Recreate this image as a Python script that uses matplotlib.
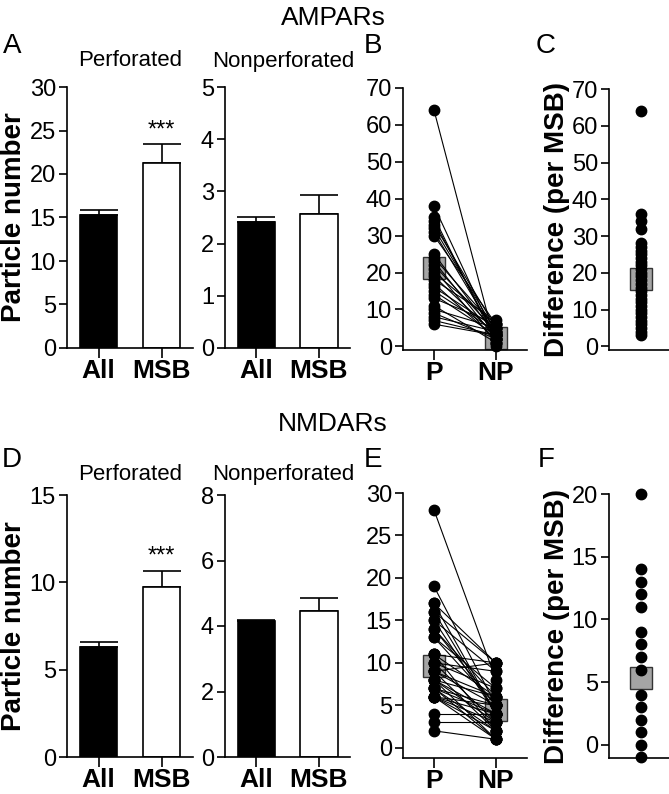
import matplotlib
matplotlib.use("Agg")
import matplotlib.pyplot as plt
import numpy as np

plt.rcParams['font.family'] = ['Liberation Sans', 'DejaVu Sans']

# ---------------- data ----------------
bar_groups = ["All", "MSB"]
ampa_perf_mean = [15.3, 21.3]
ampa_perf_err = [0.6, 2.1]
ampa_nonperf_mean = [2.42, 2.56]
ampa_nonperf_err = [0.08, 0.38]
nmda_perf_mean = [6.32, 9.75]
nmda_perf_err = [0.25, 0.92]
nmda_nonperf_mean = [4.14, 4.45]
nmda_nonperf_err = [0.05, 0.42]

pair_labels = ["P", "NP"]
ampa_P = [64, 38, 35, 34, 33, 32, 31, 30, 25, 24, 23, 22, 21, 20, 19, 18, 17, 16,
          15, 14, 13, 11, 10, 9, 8, 7, 6]
ampa_NP = [0, 2, 1, 2, 5, 4, 3, 6, 3, 5, 2, 4, 1, 6, 3, 7, 2, 5,
           4, 3, 6, 1, 5, 2, 4, 3, 3]
ampa_pair_means = [21.3, 2.3]
ampa_diff = [64, 36, 34, 32, 28, 27, 26, 25, 24, 23, 22, 21, 20, 19, 18, 17, 16,
             15, 14, 13, 12, 11, 10, 9, 8, 7, 6, 5, 4, 3]
ampa_diff_mean = 18.4

nmda_P = [28, 19, 17, 16, 15, 14, 13, 17, 16, 15, 11, 10, 9, 11, 10, 10, 9, 9,
          8, 8, 8, 7, 7, 7, 6, 6, 6, 4, 3, 2, 11, 14, 13, 6, 7, 8, 9, 6]
nmda_NP = [8, 5, 4, 4, 4, 5, 5, 10, 10, 9, 10, 9, 10, 6, 3, 7, 2, 5,
           1, 6, 3, 2, 4, 1, 3, 2, 5, 4, 3, 1, 2, 6, 7, 4, 5, 4, 6, 1]
nmda_pair_means = [9.6, 4.4]
nmda_diff = [20, 14, 13, 12, 11, 9, 8, 7, 6, 4, 3, 2, 1, 0, -1]
nmda_diff_mean = 5.3

# ---------------- figure ----------------
W, H = 669, 794
fig = plt.figure(figsize=(W / 100, H / 100), dpi=100)

TICK_FS = 17
LAB_FS = 20
CAT_FS = 19
LW = 1.2


def add_ax(l, t, r, b):
    return fig.add_axes([l / W, 1 - b / H, (r - l) / W, (b - t) / H])


def style(ax):
    for s in ["top", "right"]:
        ax.spines[s].set_visible(False)
    for s in ["left", "bottom"]:
        ax.spines[s].set_linewidth(LW)
    ax.tick_params(axis="y", labelsize=TICK_FS, length=6, width=LW, pad=2)
    ax.tick_params(axis="x", length=7, width=LW, pad=1)


def bar_panel(ax, means, errs, ymax, step, stars=False, star_pad=0.2):
    x = np.arange(len(means))
    ax.bar(x, means, width=0.6, color=["black", "white"], edgecolor="black",
           linewidth=LW, zorder=2)
    ax.errorbar(x, means, yerr=[[0, 0], errs], fmt="none", ecolor="black",
                elinewidth=LW, capsize=13.5, capthick=LW, zorder=1)
    ax.set_xlim(-0.5, 1.5)
    ax.set_ylim(0, ymax)
    ax.set_yticks(np.arange(0, ymax + 0.001, step))
    ax.set_xticks(x)
    ax.set_xticklabels(bar_groups, fontsize=CAT_FS, fontweight="bold")
    style(ax)
    if stars:
        ax.text(1, means[1] + errs[1] + star_pad, "***", ha="center", va="bottom",
                fontsize=17)


def pair_panel(ax, P, NP, means, ymin, ymax, step):
    for p, n in zip(P, NP):
        ax.plot([0, 1], [p, n], color="black", lw=0.8, zorder=2)
    ax.plot([0, 1], means, ls="none", marker="s", ms=16.5, mfc="#a5a5a5",
            mec="#333333", mew=1.0, zorder=1)
    ax.plot(np.zeros(len(P)), P, ls="none", marker="o", ms=7.5, color="black",
            zorder=3, clip_on=False)
    ax.plot(np.ones(len(NP)), NP, ls="none", marker="o", ms=7.5, color="black",
            zorder=3, clip_on=False)
    ax.set_xlim(-0.5, 1.5)
    ax.set_ylim(ymin, ymax)
    ax.set_yticks(np.arange(0, ymax + 0.001, step))
    ax.set_xticks([0, 1])
    ax.set_xticklabels(pair_labels, fontsize=CAT_FS, fontweight="bold")
    style(ax)


def diff_panel(ax, vals, mean, ymin, ymax, step):
    ax.plot([0], [mean], ls="none", marker="s", ms=16.5, mfc="#a5a5a5",
            mec="#333333", mew=1.0, zorder=1)
    ax.plot(np.zeros(len(vals)), vals, ls="none", marker="o", ms=7.5,
            color="black", zorder=3, clip_on=False)
    ax.set_xlim(-1.0, 0.875)
    ax.set_ylim(ymin, ymax)
    ax.set_yticks(np.arange(0, ymax + 0.001, step))
    ax.set_xticks([])
    style(ax)
    ax.set_ylabel("Difference (per MSB)", fontsize=LAB_FS, fontweight="bold",
                  labelpad=1)


# ---- AMPARs row ----
axA1 = add_ax(67, 87, 193, 348)
bar_panel(axA1, ampa_perf_mean, ampa_perf_err, 30, 5, stars=True, star_pad=0.3)
axA1.set_ylabel("Particle number", fontsize=LAB_FS, fontweight="bold", labelpad=2)
axA2 = add_ax(225, 87, 350, 348)
bar_panel(axA2, ampa_nonperf_mean, ampa_nonperf_err, 5, 1)

axB = add_ax(403, 88, 527, 350)
pair_panel(axB, ampa_P, ampa_NP, ampa_pair_means, -1, 70, 10)

axC = add_ax(609, 89, 669, 350)
diff_panel(axC, ampa_diff, ampa_diff_mean, -1, 70, 10)

# ---- NMDARs row ----
axD1 = add_ax(67, 495, 193, 757)
bar_panel(axD1, nmda_perf_mean, nmda_perf_err, 15, 5, stars=True, star_pad=0.2)
axD1.set_ylabel("Particle number", fontsize=LAB_FS, fontweight="bold", labelpad=2)
axD2 = add_ax(225, 495, 350, 757)
bar_panel(axD2, nmda_nonperf_mean, nmda_nonperf_err, 8, 2)

axE = add_ax(403, 493, 527, 758)
pair_panel(axE, nmda_P, nmda_NP, nmda_pair_means, -1.2, 30, 5)

axF = add_ax(609, 494, 669, 758)
diff_panel(axF, nmda_diff, nmda_diff_mean, -1.05, 20, 5)


# ---- texts ----
def ftext(x, y, s, **kw):
    fig.text(x / W, 1 - y / H, s, **kw)


ftext(333, 18, "AMPARs", ha="center", va="center", fontsize=19)
ftext(333, 424, "NMDARs", ha="center", va="center", fontsize=19)
for (x, y, s) in [(12, 46, "A"), (373, 46, "B"), (546, 46, "C"),
                  (12, 460, "D"), (373, 460, "E"), (546, 460, "F")]:
    ftext(x, y, s, ha="center", va="center", fontsize=20)
ftext(130, 61, "Perforated", ha="center", va="center", fontsize=16)
ftext(283, 61, "Nonperforated", ha="center", va="center", fontsize=16)
ftext(130, 474, "Perforated", ha="center", va="center", fontsize=16)
ftext(283, 474, "Nonperforated", ha="center", va="center", fontsize=16)

fig.savefig("out.png", dpi=100)
